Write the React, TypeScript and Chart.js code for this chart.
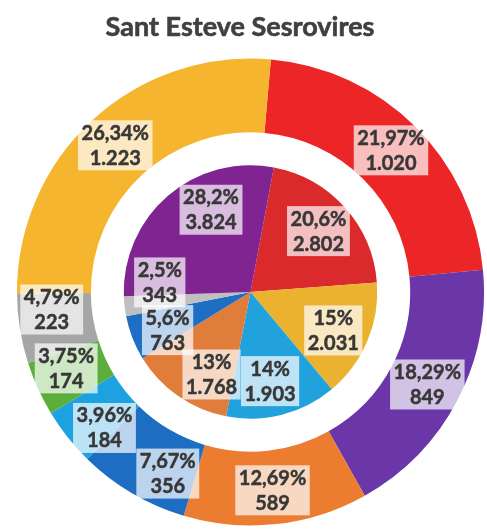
import React, { useEffect, useRef } from "react";
import { Chart, registerables } from "chart.js";

Chart.register(...registerables);

const TITLE = "Sant Esteve Sesrovires";

// Outer ring (clockwise from top)
const outerPercents = [21.97, 18.29, 12.69, 7.67, 3.96, 3.75, 4.79, 26.34];
const outerValues = [1020, 849, 589, 356, 184, 174, 223, 1223];
const outerColors = ["#EC2527", "#6A36A8", "#EC7C30", "#1D6DC3", "#1CA2E0", "#5BAE3C", "#A6A6A6", "#F5B52F"];
const outerNudges = [0, 0, 0, -6, -4.5, 2, 4, 0];

// Inner pie (clockwise from red)
const innerPercents = [20.6, 15, 14, 13, 5.6, 2.5, 28.2];
const innerValues = [2802, 2031, 1903, 1768, 763, 343, 3824];
const innerColors = ["#DB2A2C", "#EBB22F", "#22A2DC", "#E07D3A", "#1E6FC4", "#BFBFBF", "#7F2490"];
const innerNudges = [0, 2, 2, -9.5, -3.4, 12.5, 15];

const fmtPct = (p: number) => String(p).replace(".", ",") + "%";
const fmtVal = (v: number) => String(v).replace(/\B(?=(\d{3})+(?!\d))/g, ".");

const FONT = "Lato, 'Open Sans', sans-serif";

const titlePlugin = {
  id: "customTitle",
  afterDraw(chart: any) {
    const ctx = chart.ctx;
    ctx.save();
    ctx.font = `bold 27px ${FONT}`;
    ctx.fillStyle = "#404040";
    ctx.strokeStyle = "#404040";
    ctx.lineWidth = 0.6;
    ctx.textAlign = "center";
    ctx.textBaseline = "middle";
    ctx.fillText(TITLE, 240, 27);
    ctx.strokeText(TITLE, 240, 27);
    ctx.restore();
  },
};

const boxLabelPlugin = {
  id: "boxLabels",
  afterDatasetsDraw(chart: any) {
    const ctx = chart.ctx;
    chart.data.datasets.forEach((ds: any, di: number) => {
      if (!ds.pcts) return;
      const meta = chart.getDatasetMeta(di);
      meta.data.forEach((arc: any, i: number) => {
        const p = arc.getProps(["x", "y", "startAngle", "endAngle", "innerRadius", "outerRadius"], true);
        const mid = (p.startAngle + p.endAngle) / 2 + ((ds.nudges?.[i] || 0) * Math.PI) / 180;
        const r = p.innerRadius > 0
          ? p.innerRadius + 0.54 * (p.outerRadius - p.innerRadius)
          : p.outerRadius * 0.72;
        const cx = p.x + Math.cos(mid) * r;
        const cy = p.y + Math.sin(mid) * r;
        const l1 = fmtPct(ds.pcts[i]);
        const l2 = fmtVal(ds.data[i]);
        ctx.save();
        ctx.font = `bold 20px ${FONT}`;
        const w = Math.max(ctx.measureText(l1).width, ctx.measureText(l2).width) + 7;
        const h = 50;
        ctx.fillStyle = "rgba(255,255,255,0.7)";
        ctx.fillRect(cx - w / 2, cy - h / 2, w, h);
        ctx.fillStyle = "#383838";
        ctx.strokeStyle = "#383838";
        ctx.lineWidth = 0.5;
        ctx.textAlign = "center";
        ctx.textBaseline = "middle";
        ctx.fillText(l1, cx, cy - 12);
        ctx.strokeText(l1, cx, cy - 12);
        ctx.fillText(l2, cx, cy + 13);
        ctx.strokeText(l2, cx, cy + 13);
        ctx.restore();
      });
    });
  },
};

export default function App() {
  const ref = useRef<HTMLCanvasElement>(null);
  useEffect(() => {
    document.body.style.margin = "0";
    const chart = new Chart(ref.current!, {
      type: "doughnut",
      data: {
        labels: outerValues.map((_, i) => String(i)),
        datasets: [
          {
            data: outerValues,
            backgroundColor: outerColors,
            borderWidth: 0,
            weight: 74,
            rotation: 5,
            pcts: outerPercents,
            nudges: outerNudges,
          } as any,
          {
            data: [1],
            backgroundColor: ["rgba(255,255,255,0)"],
            borderWidth: 0,
            weight: 33,
          } as any,
          {
            data: innerValues,
            backgroundColor: innerColors,
            borderWidth: 0,
            weight: 127,
            rotation: 10.6,
            pcts: innerPercents,
            nudges: innerNudges,
          } as any,
        ],
      },
      options: {
        responsive: false,
        animation: false,
        cutout: 0,
        layout: { padding: { left: 17, right: 3, top: 58, bottom: 6 } },
        plugins: {
          legend: { display: false },
          tooltip: { enabled: false },
          title: { display: false },
        },
      } as any,
      plugins: [boxLabelPlugin, titlePlugin],
    });
    return () => chart.destroy();
  }, []);
  return (
    <div style={{ width: 487, height: 532, background: "#fff" }}>
      <canvas ref={ref} width={487} height={532} />
    </div>
  );
}
